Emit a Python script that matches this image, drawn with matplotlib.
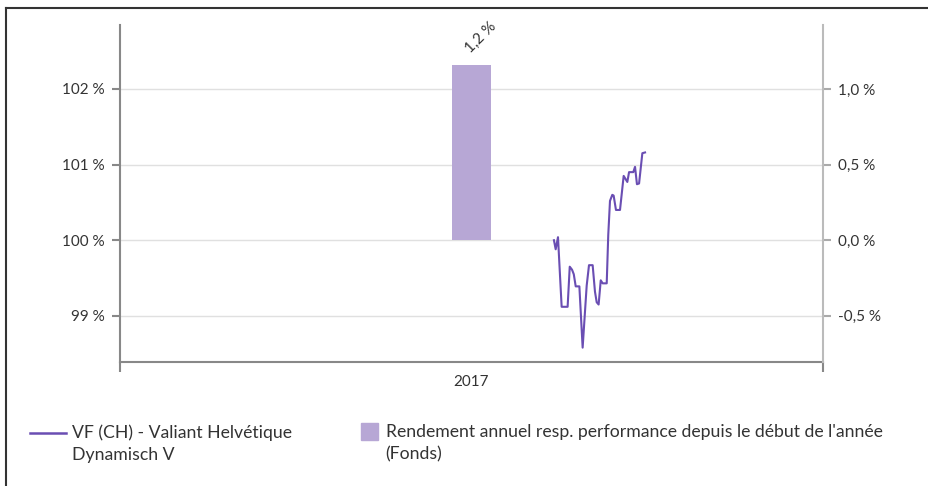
import matplotlib.pyplot as plt
from matplotlib.lines import Line2D
from matplotlib.patches import Rectangle

plt.rcParams['font.family'] = ['Lato', 'DejaVu Sans']

# fund performance, days relative to 1 Jan 2017, values in % (indexed to 100)
days = [42.8, 43.7, 44.9, 46.8, 49.9, 51.0, 52.2, 53.1, 54.1, 56.0, 57.7, 59.8,
        61.0, 62.9, 64.1, 65.0, 66.0, 67.1, 68.1, 70.2, 71.0, 71.9, 73.1, 73.8,
        75.0, 77.1, 79.0, 80.9, 81.8, 84.0, 84.9, 85.9, 87.0, 88.7, 90.1]
perf = [100.00, 99.88, 100.04, 99.12, 99.12, 99.65, 99.61, 99.55, 99.39, 99.39,
        98.58, 99.40, 99.67, 99.67, 99.32, 99.18, 99.15, 99.47, 99.43, 99.43,
        100.07, 100.52, 100.60, 100.59, 100.40, 100.40, 100.85, 100.77, 100.90,
        100.90, 100.97, 100.74, 100.75, 101.15, 101.16]

years = ['2017']
year_pos = [0]
ytd = [1.16]
ytd_labels = ['1,2 %']

left_ticks = [99, 100, 101, 102]
left_labels = ['99 %', '100 %', '101 %', '102 %']
right_ticks = [-0.5, 0.0, 0.5, 1.0]
right_labels = ['-0,5 %', '0,0 %', '0,5 %', '1,0 %']

line_col = '#6a4eb3'
bar_col = '#b7a7d5'
txt_col = '#333333'

fig = plt.figure(figsize=(9.29, 4.86), dpi=100)
ax = fig.add_axes([0.1292, 0.2551, 0.7567, 0.6935])
ax2 = ax.twinx()

ax.plot(days, perf, color=line_col, lw=1.5, zorder=3)
ax2.bar(year_pos, ytd, width=20, color=bar_col, zorder=2)
for x, v, lab in zip(year_pos, ytd, ytd_labels):
    ax2.text(x + 5, v + 0.06, lab, rotation=45, ha='center', va='bottom',
             fontsize=11, color=txt_col)

ax.set_xlim(-182.5, 182.5)
ax.set_ylim(98.39, 102.845)
ax2.set_ylim(-0.805, 1.4225)

ax.set_yticks(left_ticks)
ax.set_yticklabels(left_labels)
ax2.set_yticks(right_ticks)
ax2.set_yticklabels(right_labels)
ax.grid(axis='y', color='#e0e0e0', lw=1)
ax.set_axisbelow(True)

ax.set_xticks([-182.5, 182.5])
ax.set_xticklabels(['', ''])
ax.set_xticks(year_pos, minor=True)
ax.set_xticklabels(years, minor=True)
ax.tick_params(axis='x', which='major', length=7, width=1.5, color='#888888')
ax.tick_params(axis='x', which='minor', length=0, pad=9, labelsize=11, labelcolor=txt_col)
ax.tick_params(axis='y', length=6, width=1.5, color='#888888', labelsize=11,
               labelcolor=txt_col, pad=5)
ax2.tick_params(axis='y', length=6, width=1.5, color='#aaaaaa', labelsize=11,
                labelcolor=txt_col, pad=5)

for a in (ax, ax2):
    for s in a.spines.values():
        s.set_visible(False)
ax.spines['left'].set_visible(True)
ax.spines['left'].set_color('#888888')
ax.spines['left'].set_linewidth(1.5)
ax.spines['bottom'].set_visible(True)
ax.spines['bottom'].set_color('#888888')
ax.spines['bottom'].set_linewidth(1.5)
ax2.spines['right'].set_visible(True)
ax2.spines['right'].set_color('#bbbbbb')
ax2.spines['right'].set_linewidth(1.5)

# outer frame (top and left edges only)
fig.add_artist(Line2D([0.0065, 1.0], [0.983, 0.983], color='#333333', lw=1.5,
                      transform=fig.transFigure))
fig.add_artist(Line2D([0.0065, 0.0065], [0.0, 0.983], color='#333333', lw=1.5,
                      transform=fig.transFigure))

# legend
fig.add_artist(Line2D([0.032, 0.071], [0.109, 0.109], color=line_col, lw=1.8,
                      transform=fig.transFigure))
fig.text(0.078, 0.127, 'VF (CH) - Valiant Helvétique\nDynamisch V', fontsize=12.7,
         color=txt_col, va='top', ha='left', linespacing=1.45)
fig.add_artist(Rectangle((0.389, 0.095), 0.018, 0.034, color=bar_col,
                         transform=fig.transFigure))
fig.text(0.415, 0.127, "Rendement annuel resp. performance depuis le début de l'année\n(Fonds)",
         fontsize=12.7, color=txt_col, va='top', ha='left', linespacing=1.45)

fig.savefig('out.png', dpi=100)
